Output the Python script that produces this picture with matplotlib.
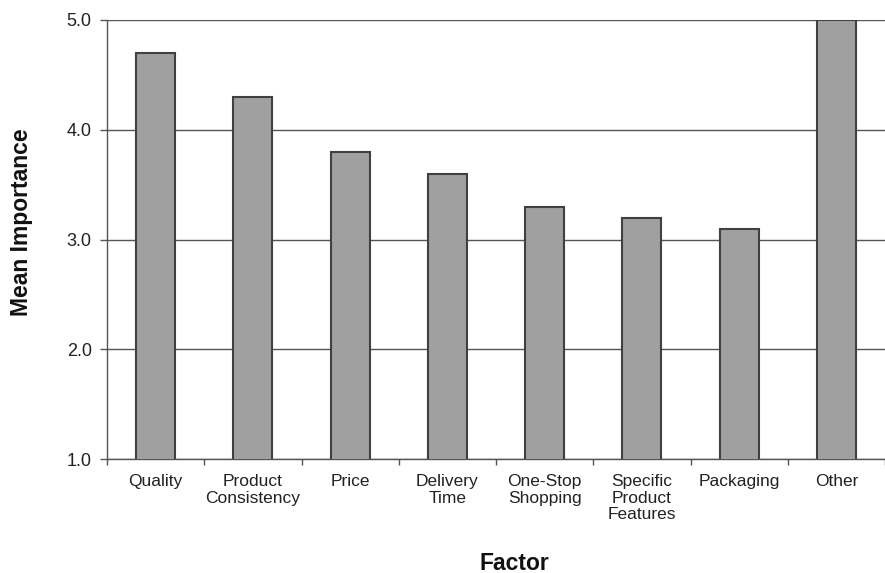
import matplotlib
matplotlib.use("Agg")
import matplotlib.pyplot as plt
import numpy as np

categories = ["Quality", "Product\nConsistency", "Price", "Delivery\nTime",
              "One-Stop\nShopping", "Specific\nProduct\nFeatures", "Packaging", "Other"]
values = [4.7, 4.3, 3.8, 3.6, 3.3, 3.2, 3.1, 5.0]
yticks = [1.0, 2.0, 3.0, 4.0, 5.0]
ytick_labels = ["1.0", "2.0", "3.0", "4.0", "5.0"]

plt.rcParams['font.family'] = ['Liberation Sans', 'DejaVu Sans']

fig = plt.figure(figsize=(8.85, 5.73), dpi=100)
ax = fig.add_axes([107/885, 1 - 459/573, 1 - 107/885, (459 - 20)/573])

x = np.arange(len(categories))
ax.bar(x, values, width=0.4, bottom=0, color="#a0a0a0", edgecolor="#404040",
       linewidth=1.5, zorder=3)

ax.set_ylim(1.0, 5.0)
ax.set_xlim(-0.5, len(categories) - 0.5)
ax.set_yticks(yticks)
ax.set_yticklabels(ytick_labels, fontsize=13, color="#222222")
ax.yaxis.grid(True, color="#555555", linewidth=1.0, zorder=0)
ax.set_axisbelow(True)

ax.set_xticks(x)
ax.set_xticklabels(categories, fontsize=12.5, color="#222222", linespacing=1.12)
ax.tick_params(axis='x', which='major', length=0, pad=11)
ax.set_xticks(np.arange(-0.5, len(categories)), minor=True)
ax.tick_params(axis='x', which='minor', length=4, color="#555555", width=1)
ax.tick_params(axis='y', length=5, color="#555555", width=1, pad=6)

for s in ['top', 'right']:
    ax.spines[s].set_visible(False)
for s in ['left', 'bottom']:
    ax.spines[s].set_color("#555555")
    ax.spines[s].set_linewidth(1.0)

fig.text(514/885, 1 - 563/573, "Factor", fontsize=16.5, fontweight='bold',
         ha='center', va='center', color="#111111")
fig.text(22/885, 1 - 222/573, "Mean Importance", fontsize=16.5, fontweight='bold',
         ha='center', va='center', rotation=90, color="#111111")

fig.savefig("out.png", dpi=100)
